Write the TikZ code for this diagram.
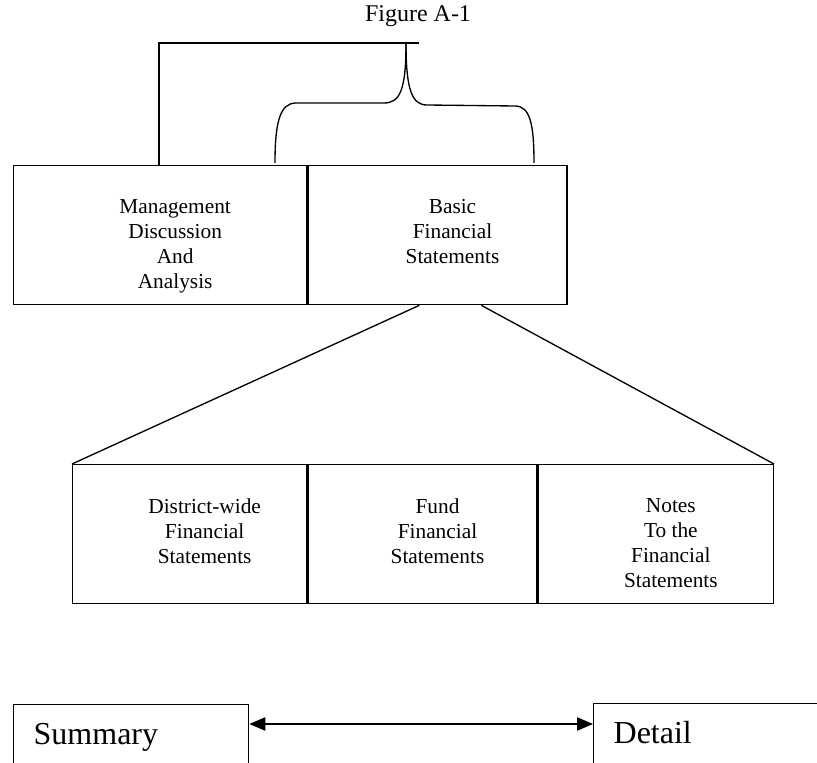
\documentclass[tikz,border=0pt]{standalone}
\usepackage{fontspec}
\setmainfont{Liberation Serif}
\usetikzlibrary{positioning,arrows.meta}
\newcommand{\px}{0.75pt}

\begin{document}
\begin{tikzpicture}[
    x=0.75pt, y=-0.75pt,
    line width=1pt,
    every node/.style={inner sep=0pt},
    panel/.style={draw, anchor=north west, minimum height=139*\px},
    blurb/.style={anchor=north, align=center, font=\fontsize{16}{18.6}\selectfont},
    endbox/.style={draw, anchor=north west, minimum height=90*\px},
    endtext/.style={anchor=base west, font=\fontsize{24}{28}\selectfont},
    both ways/.style={{Triangle[length=12pt,width=10pt]}-{Triangle[length=12pt,width=10pt]}},
]
\useasboundingbox (0,0) rectangle (817,763);
\clip (0,0) rectangle (817,763);

% title
\node[anchor=base, font=\fontsize{18}{20}\selectfont] (title) at (418,22) {Figure A-1};

% upper row
\node[panel, minimum width=293*\px] (mda) at (13,165) {};
\node[panel, minimum width=259*\px] (bfs) at (mda.north east) {};
\node[blurb, below=25.5pt of mda.north, xshift=11.25pt] (mdatext)
    {Management\\Discussion\\And\\Analysis};
\node[blurb, below=25.5pt of bfs.north, xshift=11.25pt] (bfstext)
    {Basic\\Financial\\Statements};

% bracket and brace over the upper row
\coordinate (tip) at (406,43);
\draw ([xshift=109.5pt]mda.north west) |- (419,43);
\draw (tip) .. controls (406,90) and (400,103) .. (384,103) -- (296,103)
    .. controls (280,103) and (275,122) .. (275,163);
\draw (tip) .. controls (406,90) and (412,105) .. (427,105) -- (515,106)
    .. controls (530,106) and (534,124) .. (534,163);

% lower row
\node[panel, minimum width=234*\px] (dwfs) at (72,464) {};
\node[panel, minimum width=229*\px] (ffs) at (dwfs.north east) {};
\node[panel, minimum width=235*\px] (notes) at (ffs.north east) {};
\node[blurb, below=25.5pt of dwfs.north, xshift=11.25pt] (dwfstext)
    {District-wide\\Financial\\Statements};
\node[blurb, below=25.5pt of ffs.north, xshift=11.25pt] (ffstext)
    {Fund\\Financial\\Statements};
\node[blurb, below=25.5pt of notes.north, xshift=11.25pt] (notestext)
    {Notes\\To the\\Financial\\Statements};

\draw ([xshift=84pt]bfs.south west) -- (dwfs.north west);
\draw ([xshift=130.5pt]bfs.south west) -- (notes.north east);

% summary / detail scale
\node[endbox, minimum width=235*\px] (summary) at (13,704) {};
\node[endbox, minimum width=240*\px] (detail) at (593,703) {};
\node[endtext] (summarytext) at (33,744) {Summary};
\node[endtext] (detailtext) at (613,743) {Detail};
\coordinate (arrowrow) at (0,724);
\draw[both ways] (summary.east |- arrowrow) -- (detail.west |- arrowrow);
\end{tikzpicture}
\end{document}
